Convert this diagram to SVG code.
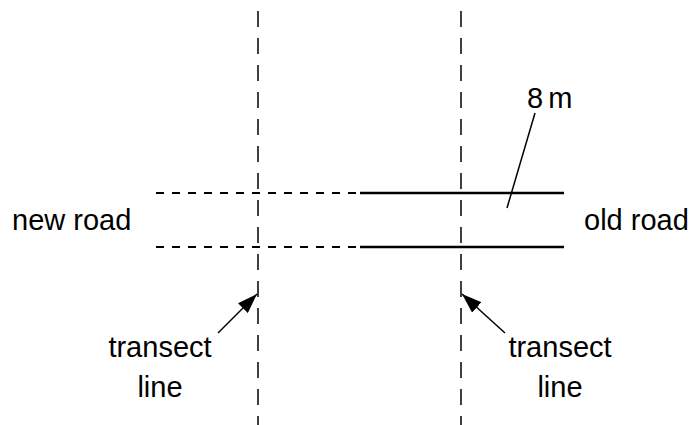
<svg xmlns="http://www.w3.org/2000/svg" width="691" height="425" viewBox="0 0 691 425">
<style>
.txt{font-family:"Liberation Sans",Arial,sans-serif;font-size:29px;fill:#000}
.vdash{stroke:#000;stroke-width:1.5;stroke-dasharray:16 11;fill:none}
.hdash{stroke:#000;stroke-width:2;stroke-dasharray:8 8;fill:none}
.solid{stroke:#000;stroke-width:2.5;fill:none}
.thin{stroke:#000;stroke-width:1.5;fill:none}
</style>
<defs>
<marker id="ah2" viewBox="0 0 20 14" refX="20" refY="7" markerWidth="20" markerHeight="14" markerUnits="userSpaceOnUse" orient="auto">
<path d="M0,0 L20,7 L0,14 z" fill="#000"/>
</marker>
</defs>
<rect width="691" height="425" fill="#fff"/>
<g id="connectors">
<line class="vdash" x1="258" y1="11" x2="258" y2="425"/>
<line class="vdash" x1="461" y1="11" x2="461" y2="425"/>
<line class="hdash" x1="156" y1="193" x2="360" y2="193"/>
<line class="hdash" x1="156" y1="247" x2="360" y2="247"/>
<line class="solid" x1="360" y1="193" x2="564" y2="193"/>
<line class="solid" x1="360" y1="247" x2="564" y2="247"/>
<line class="thin" x1="535" y1="113" x2="507" y2="208"/>
<line class="thin" x1="218" y1="333" x2="257" y2="294" marker-end="url(#ah2)"/>
<line class="thin" x1="505" y1="333" x2="462" y2="294" marker-end="url(#ah2)"/>
</g>
<g id="label-new-road"><text class="txt" x="12" y="230">new road</text></g>
<g id="label-old-road"><text class="txt" x="584" y="230">old road</text></g>
<g id="label-8m"><text class="txt" x="527" y="108" word-spacing="-3">8 m</text></g>
<g id="label-transect-left"><text class="txt" x="160" y="357" text-anchor="middle">transect</text><text class="txt" x="160" y="397" text-anchor="middle">line</text></g>
<g id="label-transect-right"><text class="txt" x="560" y="357" text-anchor="middle">transect</text><text class="txt" x="560" y="397" text-anchor="middle">line</text></g>
</svg>
